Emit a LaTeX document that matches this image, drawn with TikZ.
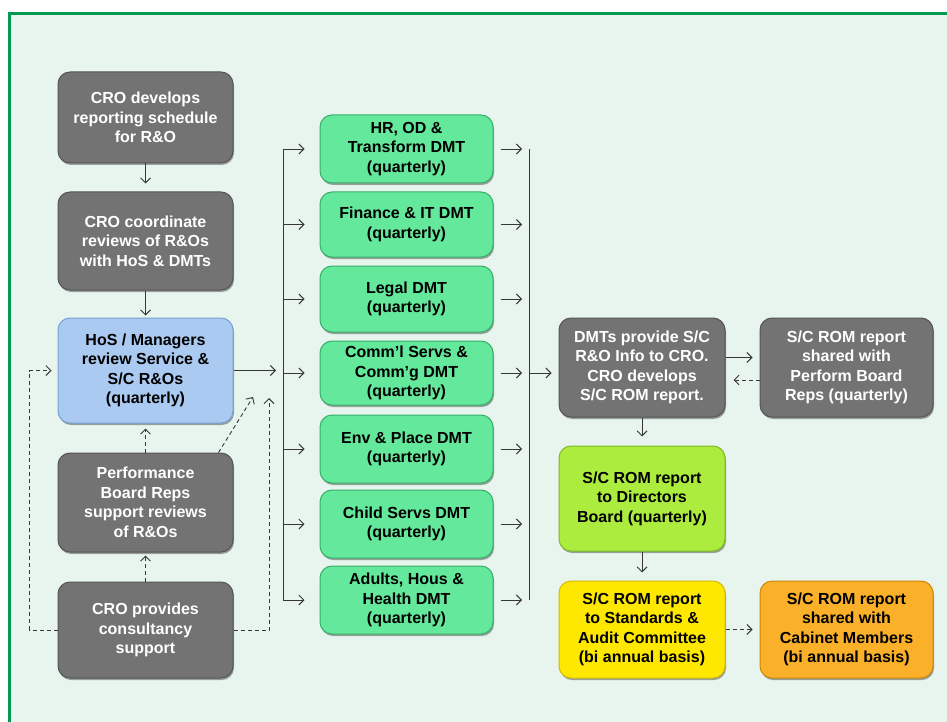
\documentclass[tikz,border=0pt]{standalone}
\usepackage{fontspec}
\setmainfont{Liberation Sans}
\usetikzlibrary{arrows.meta,shadows}
\definecolor{bgmint}{RGB}{232,245,238}
\definecolor{framegreen}{RGB}{0,155,80}
\definecolor{boxgray}{RGB}{115,115,115}
\definecolor{boxgrayd}{RGB}{85,85,85}
\definecolor{boxblue}{RGB}{170,202,242}
\definecolor{boxblued}{RGB}{120,160,210}
\definecolor{boxgreen}{RGB}{100,232,155}
\definecolor{boxgreend}{RGB}{55,175,105}
\definecolor{boxlime}{RGB}{172,236,62}
\definecolor{boxlimed}{RGB}{125,185,35}
\definecolor{boxyellow}{RGB}{255,232,0}
\definecolor{boxyellowd}{RGB}{215,185,0}
\definecolor{boxorange}{RGB}{250,176,40}
\definecolor{boxoranged}{RGB}{205,135,15}
\definecolor{linec}{RGB}{55,55,55}
\begin{document}
\begin{tikzpicture}[x=1pt,y=-1pt,
  box/.style={rounded corners=12pt, align=center, inner sep=0pt, line width=1pt,
    font=\bfseries\fontsize{16}{19.5}\selectfont,
    drop shadow={shadow xshift=1pt,shadow yshift=-2pt,opacity=0.35,fill=black}},
  graybox/.style={box, fill=boxgray, draw=boxgrayd, text=white},
  bluebox/.style={box, fill=boxblue, draw=boxblued, text=black},
  greenbox/.style={box, fill=boxgreen, draw=boxgreend, text=black, minimum width=173pt},
  limebox/.style={box, fill=boxlime, draw=boxlimed, text=black},
  yellowbox/.style={box, fill=boxyellow, draw=boxyellowd, text=black},
  orangebox/.style={box, fill=boxorange, draw=boxoranged, text=black},
  lft/.style={minimum width=175pt},
  arr/.style={draw=linec, line width=0.9pt, -{Straight Barb[length=5pt,width=10pt]}},
  darr/.style={arr, dash pattern=on 4pt off 3pt},
  bus/.style={draw=linec, line width=0.9pt}]
% background and frame
\useasboundingbox (0,0) rectangle (947,722);
\fill[white] (0,0) rectangle (947,722);
\fill[bgmint] (11,15) rectangle (947,722);
\draw[framegreen, line width=3.5pt] (8,13.5) -- (947,13.5);
\draw[framegreen, line width=3.5pt] (9.5,12) -- (9.5,722);
% left column
\node[graybox, lft, minimum height=91pt] (b1) at (145.5,117.5) {CRO develops\\reporting schedule\\for R\&O};
\node[graybox, lft, minimum height=98pt] (b2) at (145.5,241) {CRO coordinate\\reviews of R\&Os\\with HoS \& DMTs};
\node[bluebox, lft, minimum height=105pt] (b3) at (145.5,370.5) {HoS / Managers\\review Service \&\\S/C R\&Os\\(quarterly)};
\node[graybox, lft, minimum height=99pt] (b4) at (145.5,502.5) {Performance\\Board Reps\\support reviews\\of R\&Os};
\node[graybox, lft, minimum height=96pt] (b5) at (145.5,630) {CRO provides\\consultancy\\support};
% DMT column
\node[greenbox, minimum height=68pt] (g1) at (406.5,149) {HR, OD \&\\Transform DMT\\(quarterly)};
\node[greenbox, minimum height=65pt] (g2) at (406.5,224.5) {Finance \& IT DMT\\(quarterly)};
\node[greenbox, minimum height=66pt] (g3) at (406.5,299) {Legal DMT\\(quarterly)};
\node[greenbox, minimum height=64pt] (g4) at (406.5,373) {Comm’l Servs \&\\Comm’g DMT\\(quarterly)};
\node[greenbox, minimum height=68pt] (g5) at (406.5,449) {Env \& Place DMT\\(quarterly)};
\node[greenbox, minimum height=68pt] (g6) at (406.5,524) {Child Servs DMT\\(quarterly)};
\node[greenbox, minimum height=68pt] (g7) at (406.5,600) {Adults, Hous \&\\Health DMT\\(quarterly)};
% right part
\node[graybox, minimum width=166pt, minimum height=99pt] (d1) at (642,367.5) {DMTs provide S/C\\R\&O Info to CRO.\\CRO develops\\S/C ROM report.};
\node[graybox, minimum width=173pt, minimum height=99pt] (p1) at (846.5,367.5) {S/C ROM report\\shared with\\Perform Board\\Reps (quarterly)};
\node[limebox, minimum width=166pt, minimum height=105pt] (l1) at (642,498.5) {S/C ROM report\\to Directors\\Board (quarterly)};
\node[yellowbox, minimum width=166pt, minimum height=97pt] (y1) at (642,629.5) {S/C ROM report\\to Standards \&\\Audit Committee\\(bi annual basis)};
\node[orangebox, minimum width=173pt, minimum height=97pt] (o1) at (846.5,629.5) {S/C ROM report\\shared with\\Cabinet Members\\(bi annual basis)};
% bus coordinates
\coordinate (busL) at (283,0);
\coordinate (busR) at (529,0);
\coordinate (rl) at (269,398);
\coordinate (dg) at (253,397);
% left column connectors
\draw[arr, shorten >=8pt] (b1) -- (b2);
\draw[arr, shorten >=2pt] (b2) -- (b3);
\draw[darr, shorten >=5pt] (b4) -- (b3);
\draw[darr, shorten >=3pt] (b5) -- (b4);
\draw[darr] (b5.west) -- ++(-28,0) |- ([xshift=-6pt]b3.west);
\draw[darr] (b5.east) -| (rl);
\draw[darr] ([xshift=-15pt]b4.north east) -- (dg);
\draw[arr] (b3.east) -- ([xshift=-7pt]b3.east -| busL);
% left bus
\draw[bus] (g1.west -| busL) -- (g7.west -| busL);
\foreach \g in {g1,g2,g3,g4,g5,g6,g7}{
  \draw[arr] (\g.west -| busL) -- ([xshift=-15pt]\g.west);
  \draw[arr] ([xshift=7pt]\g.east) -- ([xshift=-7pt]\g.east -| busR);
}
% right bus
\draw[bus] (g1.east -| busR) -- (g7.east -| busR);
\draw[arr] (g4.east -| busR) -- ([xshift=-7pt]g4.east -| d1.west);
% right part connectors
\draw[arr] ([yshift=10pt]d1.east) -- ([yshift=10pt,xshift=-7pt]p1.west);
\draw[darr] ([yshift=-12.5pt]p1.west) -- ([yshift=-12.5pt,xshift=8pt]d1.east);
\draw[arr, shorten >=9pt] (d1) -- (l1);
\draw[arr, shorten >=8pt] (l1) -- (y1);
\draw[darr, shorten >=7pt] (y1) -- (o1);
\end{tikzpicture}
\end{document}
